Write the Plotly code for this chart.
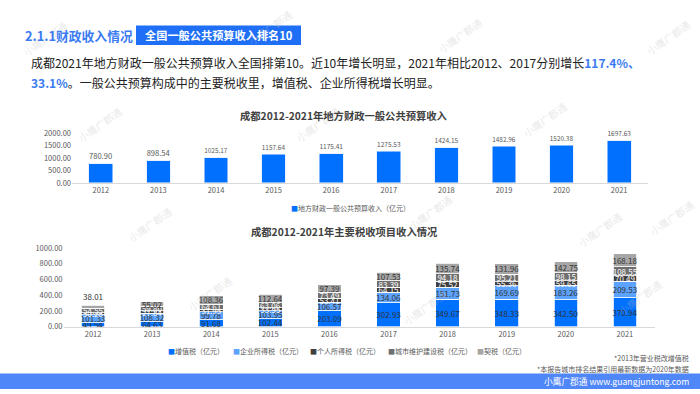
import plotly.graph_objects as go

W, H = 700, 394
FONT = "Noto Sans CJK SC"

years = ["2012", "2013", "2014", "2015", "2016", "2017", "2018", "2019", "2020", "2021"]
revenue = [780.90, 898.54, 1025.17, 1157.64, 1175.41, 1275.53, 1424.15, 1482.96, 1520.38, 1697.63]

vat = [49.54, 64.63, 91.68, 102.44, 203.09, 302.93, 349.67, 348.33, 342.50, 370.94]
corp_tax = [101.33, 108.32, 99.78, 103.95, 106.57, 134.06, 151.73, 169.69, 183.26, 209.53]
personal_tax = [30.28, 27.84, 31.95, 33.95, 53.41, 64.15, 75.52, 55.36, 59.65, 70.49]
city_tax = [54.55, 59.80, 64.61, 63.06, 73.49, 83.39, 94.18, 95.21, 98.15, 108.55]
deed_tax = [38.01, 55.02, 108.36, 112.64, 97.39, 107.53, 135.74, 131.96, 142.75, 168.18]

top_ticks = [0, 500, 1000, 1500, 2000]
bot_ticks = [0, 200, 400, 600, 800, 1000]


def px(x):
    return x / W


def py(y):
    return 1 - y / H


fig = go.Figure()

# ---- top chart ----
fig.add_trace(go.Bar(
    x=years, y=revenue, xaxis="x", yaxis="y",
    marker=dict(color="#0070FF", line=dict(color="#dbe8ff", width=0.6)),
    width=0.41,
    text=[f"{v:.2f}" for v in revenue], textposition="outside", textangle=0,
    textfont=dict(size=8, color="#595959", family=FONT),
    cliponaxis=False, showlegend=False,
))

# ---- bottom chart ----
series = [
    ("增值税（亿元）", vat, "#0070FF", "#333333"),
    ("企业所得税（亿元）", corp_tax, "#5CA3FF", "#333333"),
    ("个人所得税（亿元）", personal_tax, "#404040", "#FFFFFF"),
    ("城市维护建设税（亿元）", city_tax, "#6F6F6F", "#FFFFFF"),
    ("契税（亿元）", deed_tax, "#A6A6A6", "#333333"),
]
for i, (name, vals, col, tcol) in enumerate(series):
    if i == 4:
        tpos = ["outside"] + ["inside"] * (len(vals) - 1)
    else:
        tpos = "inside"
    fig.add_trace(go.Bar(
        x=years, y=vals, xaxis="x2", yaxis="y2", name=name,
        marker=dict(color=col, line=dict(color="#FFFFFF", width=0.8)),
        width=0.4,
        text=[f"{v:.2f}" for v in vals], textposition=tpos, textangle=0,
        insidetextanchor="middle", constraintext="none",
        textfont=dict(size=8, color=tcol, family=FONT),
        outsidetextfont=dict(size=8, color="#333333", family=FONT),
        cliponaxis=False, showlegend=False,
    ))

axis_common = dict(showgrid=False, zeroline=False, ticks="",
                   tickfont=dict(size=7.5, color="#595959", family=FONT))

fig.update_layout(
    width=W, height=H,
    margin=dict(l=0, r=0, t=0, b=0),
    paper_bgcolor="white", plot_bgcolor="white",
    barmode="stack", showlegend=False,
    font=dict(family=FONT, color="#333333"),
    xaxis=dict(domain=[px(72), px(648)], anchor="y", showline=True,
               linecolor="#D9D9D9", linewidth=1, **axis_common),
    yaxis=dict(domain=[py(182), py(131)], anchor="x", range=[0, 2000],
               tickvals=top_ticks, ticktext=[f"{t:.2f}" for t in top_ticks],
               showline=False, **axis_common),
    xaxis2=dict(domain=[px(63.5), px(654.5)], anchor="y2", showline=True,
                linecolor="#D9D9D9", linewidth=1, **axis_common),
    yaxis2=dict(domain=[py(330), py(249)], anchor="x2", range=[0, 1000],
                tickvals=bot_ticks, ticktext=[f"{t:.2f}" for t in bot_ticks],
                showline=False, **axis_common),
)

shapes = [
    dict(type="rect", xref="paper", yref="paper", x0=px(136), x1=px(301),
         y0=py(40), y1=py(20), fillcolor="#1E6FF6", line=dict(width=0), layer="below"),
    dict(type="rect", xref="paper", yref="paper", x0=0, x1=1,
         y0=0, y1=py(378), fillcolor="#4F86F8", line=dict(width=0), layer="below"),
]
fig.update_layout(shapes=shapes)

ann = []


def text(x, y, s, size, color="#222222", xanchor="left", bold=False, angle=0):
    if bold:
        s = f"<b>{s}</b>"
    ann.append(dict(x=px(x), y=py(y), xref="paper", yref="paper", text=s,
                    showarrow=False, xanchor=xanchor, yanchor="middle",
                    textangle=angle, borderpad=0,
                    font=dict(size=size, color=color, family=FONT)))


# watermarks
for (wx, wy) in [(45, 33), (270, 22), (460, 30), (668, 32), (100, 122), (318, 122),
                 (545, 117), (430, 212), (150, 225), (210, 296), (425, 310),
                 (600, 230), (672, 218), (640, 300)]:
    text(wx, wy, "小鹰广郡通", 10, color="rgba(190,190,190,0.35)",
         xanchor="center", angle=-35)

text(24, 30, "2.1.1财政收入情况", 12.8, color="#3A7BF2", bold=True)
text(218.5, 30, "全国一般公共预算收入排名10", 11.2, color="#FFFFFF",
     xanchor="center", bold=True)
text(30, 58, "成都2021年地方财政一般公共预算收入全国排第10。近10年增长明显，2021年相比2012、2017分别增长"
     "<b><span style='color:#3A7BF2'>117.4%、</span></b>", 12, color="#222222")
text(30, 79, "<b><span style='color:#3A7BF2'>33.1%</span></b>。一般公共预算构成中的主要税收里，增值税、企业所得税增长明显。",
     12, color="#222222")

text(344, 113, "成都2012-2021年地方财政一般公共预算收入", 10.3, color="#404040",
     xanchor="center", bold=True)
text(344, 232, "成都2012-2021年主要税收项目收入情况", 10.3, color="#404040",
     xanchor="center", bold=True)


def legend_item(x, y, color, label):
    text(x, y, f"<span style='color:{color}'>■</span>{label}", 7, color="#595959")


legend_item(290, 208, "#0070FF", "地方财政一般公共预算收入（亿元）")
leg_x = [167, 232, 309, 387, 476]
for lx, (name, vals, col, tcol) in zip(leg_x, series):
    legend_item(lx, 355, col, name)

text(690, 362, "*2013年营业税改增值税", 7, color="#595959", xanchor="right")
text(690, 373, "*本报告城市排名结果引用最新数据为2020年数据", 7, color="#595959", xanchor="right")
text(690, 386, "小鹰广郡通 www.guangjuntong.com", 8.7, color="#FFFFFF", xanchor="right")

fig.update_layout(annotations=ann)

fig.write_html("out.html", config={"displayModeBar": False},
               post_script="document.body.style.margin='0';document.body.style.overflow='hidden';")
